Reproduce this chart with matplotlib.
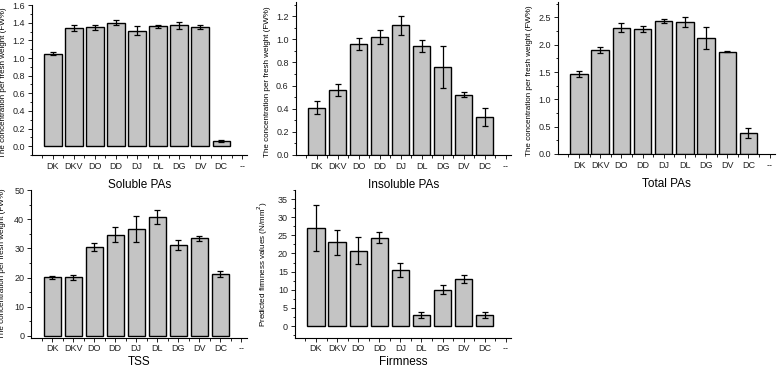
import matplotlib
matplotlib.use("Agg")
import matplotlib.pyplot as plt
from matplotlib.ticker import MultipleLocator, FixedLocator, FormatStrFormatter

plt.rcParams['font.family'] = ['Liberation Sans', 'DejaVu Sans']

categories = ["DK", "DKV", "DO", "DD", "DJ", "DL", "DG", "DV", "DC", "--"]

soluble = [1.05, 1.34, 1.35, 1.40, 1.31, 1.36, 1.37, 1.35, 0.06]
soluble_err = [0.02, 0.03, 0.03, 0.03, 0.05, 0.02, 0.04, 0.02, 0.01]

insoluble = [0.41, 0.56, 0.96, 1.02, 1.12, 0.94, 0.76, 0.52, 0.33]
insoluble_err = [0.06, 0.05, 0.05, 0.06, 0.08, 0.05, 0.18, 0.02, 0.08]

total = [1.46, 1.90, 2.31, 2.29, 2.43, 2.42, 2.13, 1.87, 0.39]
total_err = [0.05, 0.06, 0.08, 0.05, 0.04, 0.09, 0.20, 0.01, 0.09]

tss = [20.1, 20.1, 30.5, 34.7, 36.6, 40.8, 31.2, 33.5, 21.3]
tss_err = [0.6, 0.9, 1.5, 2.6, 4.4, 2.4, 1.6, 0.9, 1.0]

firmness = [27.1, 23.1, 20.8, 24.4, 15.5, 3.0, 10.0, 13.0, 3.0]
firmness_err = [6.4, 3.5, 3.8, 1.4, 2.0, 0.8, 1.2, 1.0, 0.8]

conc_label = "The concentration per fresh weight (FW%)"
panels = [
    # (values, errors, xlabel, ylabel, ylim, major, minor, rect, fmt)
    (soluble, soluble_err, "Soluble PAs", conc_label, (-0.1, 1.6), 0.2, 0.1,
     [0.041, 0.580, 0.277, 0.406], "%.1f"),
    (insoluble, insoluble_err, "Insoluble PAs", conc_label, (0.0, 1.32), 0.2, 0.1,
     [0.380, 0.580, 0.277, 0.414], "%.1f"),
    (total, total_err, "Total PAs", conc_label, (0.0, 2.78), 0.5, 0.25,
     [0.717, 0.583, 0.279, 0.411], "%.1f"),
    (tss, tss_err, "TSS", conc_label, (-0.6, 50), 10, 5,
     [0.040, 0.085, 0.277, 0.400], "%d"),
    (firmness, firmness_err, "Firmness", "Predicted firmness values (N/mm$^2$)",
     (-3.2, 37.5), 5, 2.5, [0.379, 0.085, 0.278, 0.400], "%d"),
]

fig = plt.figure(figsize=(7.78, 3.69), dpi=100)

for i, (vals, errs, xl, yl, ylim, major, minor, rect, fmt) in enumerate(panels):
    ax = fig.add_axes(rect)
    pos = list(range(1, len(vals) + 1))
    ax.bar(pos, vals, width=0.82, color="#c4c4c4", edgecolor="black",
           linewidth=1.0, zorder=2)
    ax.errorbar(pos, vals, yerr=errs, fmt="none", ecolor="black",
                elinewidth=0.9, capsize=2.0, capthick=0.9, zorder=3)
    ax.set_xlim(0.0, 10.25)
    ax.set_ylim(*ylim)
    ax.set_xticks(range(1, len(categories) + 1))
    ax.set_xticklabels(categories)
    ax.xaxis.set_minor_locator(FixedLocator([0.5 + k for k in range(10)]))
    ax.yaxis.set_major_locator(MultipleLocator(major))
    ax.yaxis.set_minor_locator(MultipleLocator(minor))
    ax.yaxis.set_major_formatter(FormatStrFormatter(fmt))
    top_row = i < 3
    ax.tick_params(axis="both", which="major", direction="out", length=3,
                   width=0.7, labelsize=6.5, pad=2, colors="#222222")
    ax.tick_params(axis="x", which="major", pad=2 if top_row else 1.5)
    ax.tick_params(axis="both", which="minor", direction="out", length=1.8,
                   width=0.6)
    for s in ("top", "right"):
        ax.spines[s].set_visible(False)
    for s in ("left", "bottom"):
        ax.spines[s].set_linewidth(0.8)
    ax.set_xlabel(xl, fontsize=8.5, labelpad=6 if top_row else 2)
    ax.set_ylabel(yl, fontsize=5.8)
    ax.yaxis.set_label_coords(-0.115, 0.48 if top_row else 0.5)

fig.savefig("out.png", dpi=100)
